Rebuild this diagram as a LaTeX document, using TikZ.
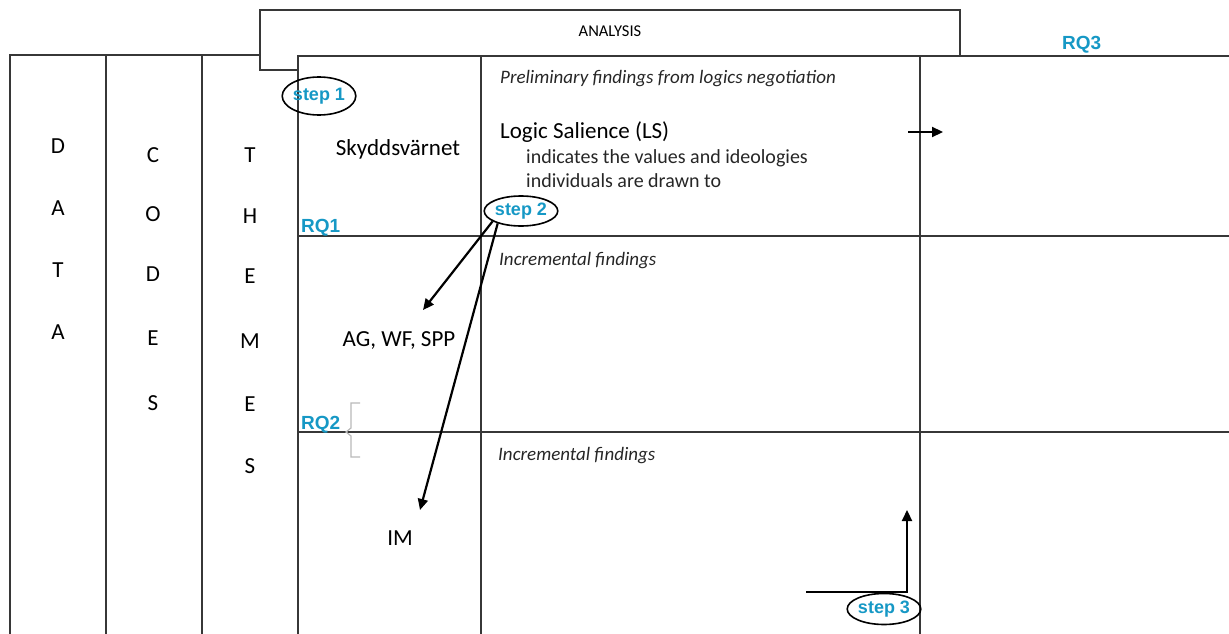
\documentclass[tikz,border=0pt]{standalone}
\usepackage{fontspec}
\setmainfont{Carlito}
\newfontfamily\labelfont{Liberation Sans}
\usetikzlibrary{shapes.geometric,arrows.meta}
\definecolor{rqblue}{RGB}{22,152,197}
\definecolor{framegray}{RGB}{55,55,55}
\definecolor{bracegray}{RGB}{185,185,185}
\begin{document}
\begin{tikzpicture}[x=1pt,y=-1pt,
  frame/.style={draw=framegray,line width=1.4pt},
  letter/.style={font=\fontsize{23}{23}\selectfont,anchor=center,inner sep=0pt},
  bodytext/.style={anchor=base west,inner sep=0pt,text=black!85},
  cellname/.style={anchor=base,inner sep=0pt,font=\fontsize{23}{23}\selectfont},
  rqlabel/.style={anchor=base west,inner sep=0pt,text=rqblue,font=\labelfont\bfseries\fontsize{19}{19}\selectfont},
  stepmark/.style={ellipse,draw=black,line width=1.6pt,inner sep=0pt,text=rqblue,font=\labelfont\bfseries\fontsize{18}{18}\selectfont},
  flow/.style={draw=black,line width=2.2pt,-{Triangle[length=11pt,width=10pt]}}]
\useasboundingbox (0,0) rectangle (1229,634);

% outer frame and the three left columns
\draw[frame] (10,634) -- (10,55) -- (260,55);
\draw[frame] (106,55) -- (106,634);
\draw[frame] (202,55) -- (202,634);
% analysis header box
\draw[frame] (260,55) -- (260,70) -- (298,70);
\draw[frame] (260,70) -- (260,10) -- (960,10) -- (960,56);
\node[inner sep=0pt,font=\fontsize{16.5}{16.5}\selectfont] (analysis) at (610,31) {ANALYSIS};
% analysis grid
\draw[frame] (298,634) -- (298,56) -- (1229,56);
\draw[frame] (481,56) -- (481,634);
\draw[frame] (920,56) -- (920,634);
\draw[frame] (298,236) -- (1229,236);
\draw[frame] (298,432) -- (1229,432);

% column headings
\foreach \ch [count=\i] in {D,A,T,A}
  \node[letter] (data\i) at (58,{146+62*(\i-1)}) {\ch};
\node[letter] (codes1) at (153,155) {C};
\node[letter] (codes2) at (153,214) {O};
\node[letter] (codes3) at (153,274) {D};
\node[letter] (codes4) at (153,338) {E};
\node[letter] (codes5) at (153,403) {S};
\node[letter] (themes1) at (250,155) {T};
\node[letter] (themes2) at (250,216) {H};
\node[letter] (themes3) at (250,276) {E};
\node[letter] (themes4) at (250,341) {M};
\node[letter] (themes5) at (250,404) {E};
\node[letter] (themes6) at (250,466) {S};

% research question labels
\node[rqlabel] (rq1) at (301,232) {RQ1};
\node[rqlabel] (rq2) at (301,429) {RQ2};
\node[rqlabel] (rq3) at (1062,50) {RQ3};
\draw[bracegray,line width=1.2pt] (360,403) -- (351,403) -- (351,428) -- (346,432) -- (351,436) -- (351,457) -- (360,457);

% cell contents
\node[cellname] (sky) at (398,155) {Skyddsvärnet};
\node[cellname] (ag) at (399,346) {AG, WF, SPP};
\node[cellname] (im) at (400,545) {IM};
\node[bodytext,font=\itshape\fontsize{19}{19}\selectfont] (prelim) at (500,84) {Preliminary findings from logics negotiation};
\node[bodytext,font=\fontsize{23}{23}\selectfont,text=black] (ls) at (500,138) {Logic Salience (LS)};
\node[bodytext,font=\fontsize{20}{20}\selectfont] (ls1) at (526,163) {indicates the values and ideologies};
\node[bodytext,font=\fontsize{20}{20}\selectfont] (ls2) at (526,187) {individuals are drawn to};
\node[bodytext,font=\itshape\fontsize{19}{19}\selectfont] (inc1) at (499,265) {Incremental findings};
\node[bodytext,font=\itshape\fontsize{19}{19}\selectfont] (inc2) at (498,460) {Incremental findings};

% steps
\node[stepmark,minimum width=64pt,minimum height=38pt] (step1) at (319,96) {step 1};
\node[stepmark,minimum width=67pt,minimum height=30pt] (step2) at (521,211) {step 2};
\node[stepmark,minimum width=67pt,minimum height=31pt] (step3) at (884,609) {step 3};

% arrows
\coordinate (agtip) at (423,310);
\coordinate (imtip) at (420,510);
\draw[flow] (step2.200) -- (agtip);
\draw[flow] (step2.208) -- (imtip);
\coordinate (lsfrom) at (908,132);
\coordinate (lsto) at (943,132);
\draw[flow] (lsfrom) -- (lsto);
\coordinate (s3start) at (806,592);
\coordinate (s3corner) at (907,592);
\coordinate (s3tip) at (907,510);
\draw[flow] (s3start) -- (s3corner) -- (s3tip);
\end{tikzpicture}
\end{document}
